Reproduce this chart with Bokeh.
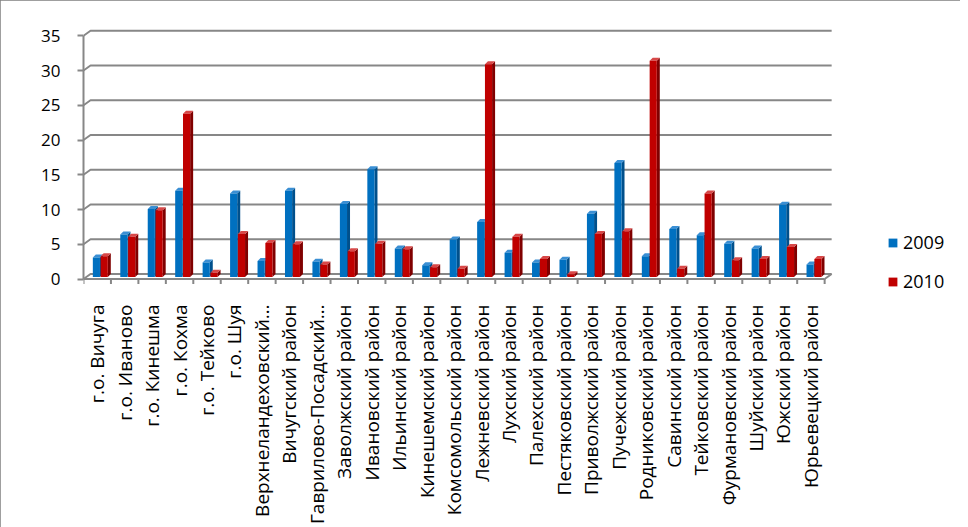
import math
from bokeh.plotting import figure
from bokeh.models import (ColumnDataSource, FixedTicker, Legend, LegendItem,
                          CustomJSTickFormatter, Range1d)
from bokeh.embed import file_html
from bokeh.resources import INLINE

# ---------------- data ----------------
categories = [
    "г.о. Вичуга", "г.о. Иваново", "г.о. Кинешма", "г.о. Кохма", "г.о. Тейково",
    "г.о. Шуя", "Верхнеландеховский…", "Вичугский район", "Гаврилово-Посадский…",
    "Заволжский район", "Ивановский район", "Ильинский район", "Кинешемский район",
    "Комсомольский район", "Лежневский район", "Лухский район", "Палехский район",
    "Пестяковский район", "Приволжский район", "Пучежский район", "Родниковский район",
    "Савинский район", "Тейковский район", "Фурмановский район", "Шуйский район",
    "Южский район", "Юрьевецкий район",
]
values_2009 = [2.8, 6.1, 9.8, 12.4, 2.1, 12.0, 2.3, 12.4, 2.2, 10.5, 15.5, 4.1, 1.7,
               5.4, 7.9, 3.5, 2.1, 2.5, 9.1, 16.4, 3.0, 6.9, 6.0, 4.8, 4.1, 10.4, 1.8]
values_2010 = [3.0, 5.8, 9.6, 23.5, 0.6, 6.2, 4.9, 4.7, 1.8, 3.7, 4.8, 4.0, 1.4,
               1.2, 30.6, 5.8, 2.6, 0.4, 6.2, 6.6, 31.1, 1.2, 12.0, 2.4, 2.6, 4.3, 2.6]
series_names = ["2009", "2010"]
y_ticks = [0, 5, 10, 15, 20, 25, 30, 35]

# ---------------- geometry (pixels) ----------------
PX_UNIT = 6.95      # px per value unit
CAT_PX = 27.45      # px per category
W, H = 960, 519
LEFT, TOP, RIGHT = 83, 18, 10
FRAME_W = W - LEFT - RIGHT
FRAME_H = 275
BOTTOM = H - TOP - FRAME_H
ZERO_FROM_TOP = 260.5

x_end = FRAME_W / CAT_PX
y_end = ZERO_FROM_TOP / PX_UNIT
y_start = -(FRAME_H - ZERO_FROM_TOP) / PX_UNIT

dxw, dyw = 7 / CAT_PX, 5 / PX_UNIT          # back wall depth
dxb, dyb = 3 / CAT_PX, 3 / PX_UNIT          # bar depth
lift = 2 / PX_UNIT
tick_len = 5 / PX_UNIT
n = len(categories)

FONT = "Open Sans"
GRID = "#878787"

p = figure(frame_width=FRAME_W, frame_height=FRAME_H,
           x_range=Range1d(0, x_end), y_range=Range1d(y_start, y_end),
           output_backend="svg", toolbar_location=None,
           min_border_left=LEFT, min_border_right=RIGHT,
           min_border_top=TOP, min_border_bottom=BOTTOM)
p.outline_line_color = None
p.xgrid.visible = False
p.ygrid.visible = False
p.background_fill_color = "white"
p.border_fill_color = "white"
p.styles = {"outline": "2px solid #7f7f7f", "outline-offset": "-2px"}

# ---------------- back-wall grid lines ----------------
gxs = [[0, dxw, n + dxw] for t in y_ticks]
gys = [[t, t + dyw, t + dyw] for t in y_ticks]
p.multi_line(gxs, gys, line_color=GRID, line_width=2)

# front floor edge, right slant and category ticks
p.segment(x0=[0, n], y0=[0, 0], x1=[n, n + dxw], y1=[0, dyw], line_color=GRID, line_width=2)
bx = list(range(n + 1))
p.segment(x0=bx, y0=[0] * len(bx), x1=bx, y1=[-tick_len] * len(bx),
          line_color=GRID, line_width=2)

# ---------------- 3D bars ----------------
styles = [
    dict(off=0.34, w=0.26, front="#0070C0", side="#00508C", top="#3A8FD4"),
    dict(off=0.625, w=0.26, front="#C00000", side="#800000", top="#D84848"),
]
front_renderers = []
for vals, st in zip([values_2009, values_2010], styles):
    left = [i + st["off"] for i in range(n)]
    right = [l + st["w"] for l in left]
    sxs, sys_, txs, tys = [], [], [], []
    for l, r, v in zip(left, right, vals):
        top = v + lift
        sxs.append([r, r + dxb, r + dxb, r])
        sys_.append([lift, lift + dyb, top + dyb, top])
        txs.append([l, r, r + dxb, l + dxb])
        tys.append([top, top, top + dyb, top + dyb])
    p.patches(sxs, sys_, fill_color=st["side"], line_color=None)
    p.patches(txs, tys, fill_color=st["top"], line_color=None)
    src = ColumnDataSource(dict(left=left, right=right,
                                bottom=[lift] * n, top=[v + lift for v in vals]))
    r = p.quad(left="left", right="right", bottom="bottom", top="top", source=src,
               fill_color=st["front"], line_color=None)
    front_renderers.append(r)

# ---------------- axes ----------------
ya = p.yaxis[0]
ya.ticker = FixedTicker(ticks=y_ticks)
ya.bounds = (0, 35)
ya.axis_line_color = GRID
ya.axis_line_width = 2
ya.major_tick_line_color = GRID
ya.major_tick_line_width = 2
ya.major_tick_out = 6
ya.major_tick_in = 0
ya.minor_tick_line_color = None
ya.major_label_standoff = 17
ya.major_label_text_font = FONT
ya.major_label_text_font_size = "17px"
ya.major_label_text_color = "black"

xa = p.xaxis[0]
xa.ticker = FixedTicker(ticks=[i + 0.5 for i in range(n)])
xa.formatter = CustomJSTickFormatter(args=dict(names=categories),
                                     code="const k = Math.floor(tick); return (k >= 0 && k < names.length) ? names[k] : '';")
xa.axis_line_color = None
xa.major_tick_line_color = None
xa.minor_tick_line_color = None
xa.major_label_orientation = math.pi / 2
xa.major_label_standoff = 5
xa.major_label_text_font = FONT
xa.major_label_text_font_size = "19px"
xa.major_label_text_color = "black"

# ---------------- legend ----------------
legend = Legend(items=[LegendItem(label=series_names[0], renderers=[front_renderers[0]]),
                       LegendItem(label=series_names[1], renderers=[front_renderers[1]])],
                location=(804, 0), padding=0, margin=0, spacing=15,
                glyph_width=11, glyph_height=11, label_height=22, label_standoff=5,
                border_line_color=None, background_fill_alpha=0,
                label_text_font=FONT, label_text_font_size="18px", label_text_color="black")
p.add_layout(legend)

open("out.html", "w").write(file_html(p, INLINE))
